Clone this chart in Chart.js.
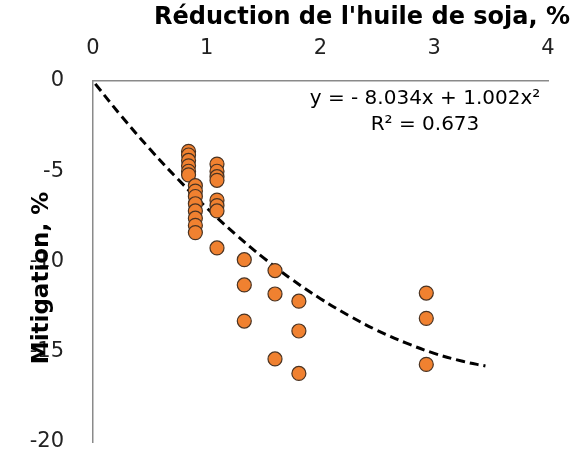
<!DOCTYPE html>
<html>
<head>
<meta charset="utf-8">
<script src="https://cdn.jsdelivr.net/npm/chart.js@4.4.1/dist/chart.umd.min.js"></script>
<style>
  html, body { margin: 0; padding: 0; background: #fff; overflow: hidden; }
  canvas { display: block; }
</style>
</head>
<body>
<canvas id="chart" width="573" height="451"></canvas>
<script>
// soybean oil reduction (%) vs mitigation (%)
var scatterX = [
  0.84, 0.84, 0.84, 0.84, 0.84, 0.84,
  0.90, 0.90, 0.90, 0.90, 0.90, 0.90, 0.90, 0.90,
  1.09, 1.09, 1.09, 1.09, 1.09, 1.09, 1.09, 1.09,
  1.33, 1.33, 1.33,
  1.60, 1.60, 1.60,
  1.81, 1.81, 1.81,
  2.93, 2.93, 2.93
];
var scatterY = [
  -3.9, -4.1, -4.4, -4.7, -5.0, -5.2,
  -5.8, -6.1, -6.4, -6.8, -7.2, -7.6, -8.0, -8.4,
  -4.6, -5.0, -5.3, -5.5, -6.6, -6.9, -7.2, -9.25,
  -9.9, -11.3, -13.3,
  -10.5, -11.8, -15.4,
  -12.2, -13.85, -16.2,
  -11.75, -13.15, -15.7
];

// trend curve
var trendX = [0.02, 0.25, 0.5, 0.75, 1.0, 1.25, 1.5, 1.75, 2.0, 2.25, 2.5, 2.75, 3.0, 3.25, 3.45];
var trendY = [-0.16, -1.95, -3.77, -5.46, -7.03, -8.48, -9.80, -11.0, -12.06, -13.0, -13.82, -14.51, -15.09, -15.53, -15.79];

var xTitle = "Réduction de l'huile de soja, %";
var yTitle = 'Mitigation, %';
var equationLines = ['y = - 8.034x + 1.002x\u00b2', 'R\u00b2 = 0.673'];

var scatterPts = scatterX.map(function (x, i) { return { x: x, y: scatterY[i] }; });
var trendPts = trendX.map(function (x, i) { return { x: x, y: trendY[i] }; });

var textPlugin = {
  id: 'chartText',
  afterDraw: function (chart) {
    var ctx = chart.ctx;
    ctx.save();
    ctx.fillStyle = '#000';
    // top title
    ctx.font = 'bold 24px "DejaVu Sans"';
    ctx.textAlign = 'right';
    ctx.textBaseline = 'alphabetic';
    ctx.fillText(xTitle, 570, 24);
    // equation
    ctx.font = '20px "DejaVu Sans"';
    ctx.textAlign = 'center';
    ctx.fillText(equationLines[0], 425, 104);
    ctx.fillText(equationLines[1], 425, 130);
    // rotated y title
    ctx.translate(42, 278);
    ctx.rotate(-Math.PI / 2);
    ctx.font = 'bold 23px "DejaVu Sans"';
    ctx.textBaseline = 'middle';
    ctx.fillText(yTitle, 0, 0);
    ctx.restore();
  }
};

var ctx = document.getElementById('chart').getContext('2d');
new Chart(ctx, {
  type: 'scatter',
  data: {
    datasets: [{
      data: trendPts,
      showLine: true,
      borderColor: '#000',
      borderWidth: 3,
      borderDash: [9, 5],
      pointRadius: 0,
      tension: 0.4,
      fill: false,
      order: 2
    }, {
      data: scatterPts,
      backgroundColor: '#F08130',
      borderColor: '#4a3322',
      borderWidth: 1.2,
      pointRadius: 7,
      order: 1
    }]
  },
  options: {
    responsive: false,
    animation: false,
    events: [],
    layout: { padding: { left: 0, right: 25, top: 0, bottom: 9 } },
    plugins: {
      legend: { display: false },
      tooltip: { enabled: false }
    },
    scales: {
      x: {
        type: 'linear',
        position: 'top',
        min: 0,
        max: 4,
        ticks: {
          stepSize: 1,
          padding: 12,
          color: '#222',
          font: { family: '"DejaVu Sans"', size: 21 }
        },
        grid: { display: false },
        border: { display: true, color: '#8a8a8a', width: 1.5 },
        afterFit: function (scale) { scale.height = 81; }
      },
      y: {
        type: 'linear',
        min: -20,
        max: 0,
        ticks: {
          stepSize: 5,
          padding: 21,
          color: '#222',
          font: { family: '"DejaVu Sans"', size: 21 }
        },
        grid: { display: false },
        border: { display: true, color: '#8a8a8a', width: 1.5 },
        afterFit: function (scale) {
          scale.width = 93;
          scale.paddingTop = 0;
          scale.paddingBottom = 0;
        }
      }
    }
  },
  plugins: [textPlugin]
});
</script>
</body>
</html>
